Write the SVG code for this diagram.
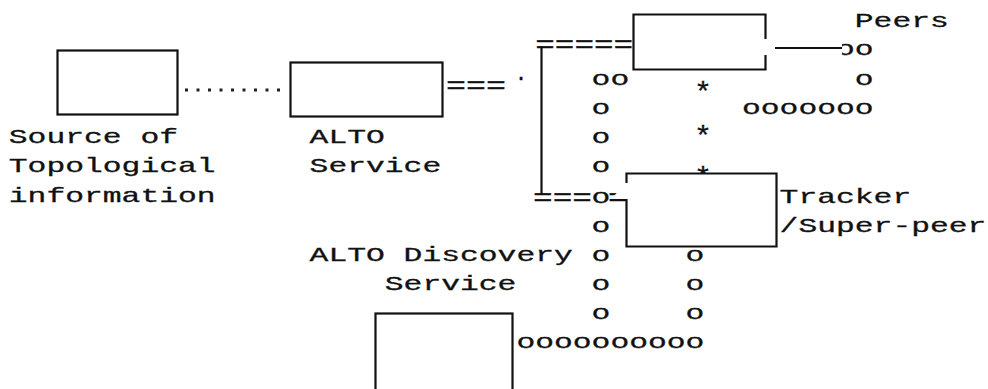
<svg xmlns="http://www.w3.org/2000/svg" width="988" height="389" viewBox="0 0 988 389">
<style>
text{font-family:"Liberation Mono","DejaVu Sans Mono",monospace;font-size:21px;fill:#111;white-space:pre;stroke:#111;stroke-width:0.3}
.star{font-size:28px}
.eq{font-size:24px}
.box{fill:#fff;stroke:#111;stroke-width:2.2}
.ln{fill:none;stroke:#111;stroke-width:2.2}
.dots{fill:none;stroke:#222;stroke-width:3;stroke-dasharray:3 8.5}
</style>
<rect width="988" height="389" fill="#fff"/>

<g id="ascii-paths">
  <text x="836" y="55" textLength="37.6" lengthAdjust="spacingAndGlyphs">oo</text>
  <text x="591.6" y="85" textLength="37.6" lengthAdjust="spacingAndGlyphs">oo</text>
  <text x="854.8" y="85" textLength="18.8" lengthAdjust="spacingAndGlyphs">o</text>
  <text x="591.6" y="114" textLength="18.8" lengthAdjust="spacingAndGlyphs">o</text>
  <text x="742" y="114" textLength="131.6" lengthAdjust="spacingAndGlyphs">ooooooo</text>
  <text x="591.6" y="143" textLength="18.8" lengthAdjust="spacingAndGlyphs">o</text>
  <text x="591.6" y="172" textLength="18.8" lengthAdjust="spacingAndGlyphs">o</text>
  <text x="591.6" y="203" textLength="18.8" lengthAdjust="spacingAndGlyphs">o</text>
  <text x="591.6" y="232" textLength="18.8" lengthAdjust="spacingAndGlyphs">o</text>
  <text x="591.6" y="261" textLength="18.8" lengthAdjust="spacingAndGlyphs">o</text>
  <text x="685.6" y="261" textLength="18.8" lengthAdjust="spacingAndGlyphs">o</text>
  <text x="591.6" y="290" textLength="18.8" lengthAdjust="spacingAndGlyphs">o</text>
  <text x="685.6" y="290" textLength="18.8" lengthAdjust="spacingAndGlyphs">o</text>
  <text x="591.6" y="319" textLength="18.8" lengthAdjust="spacingAndGlyphs">o</text>
  <text x="685.6" y="319" textLength="18.8" lengthAdjust="spacingAndGlyphs">o</text>
  <text x="516.4" y="348" textLength="188" lengthAdjust="spacingAndGlyphs">oooooooooo</text>
  <text class="star" x="694" y="101" textLength="18" lengthAdjust="spacingAndGlyphs">*</text>
  <text class="star" x="694" y="145" textLength="18" lengthAdjust="spacingAndGlyphs">*</text>
  <text class="star" x="694" y="186" textLength="18" lengthAdjust="spacingAndGlyphs">*</text>
  <text class="eq" x="446" y="93" textLength="60" lengthAdjust="spacingAndGlyphs">===</text>
  <text x="521" y="80" text-anchor="middle">.</text>
  <text class="eq" x="535.2" y="52" textLength="98" lengthAdjust="spacingAndGlyphs">=====</text>
  <text class="eq" x="533" y="205" textLength="59" lengthAdjust="spacingAndGlyphs">===</text>
  <text class="eq" x="608" y="205" textLength="19" lengthAdjust="spacingAndGlyphs">=</text>
</g>

<g id="connectors">
  <line class="dots" x1="185" y1="90" x2="283" y2="90"/>
  <line class="ln" x1="541.5" y1="46" x2="541.5" y2="195"/>
  <rect x="836" y="40" width="6" height="18" fill="#fff"/>
  <line class="ln" x1="775" y1="48" x2="842" y2="48"/>
</g>

<g id="source">
  <rect class="box" x="57.5" y="50.5" width="120" height="64"/>
  <text x="8.8" y="143" textLength="169.2" lengthAdjust="spacingAndGlyphs">Source of</text>
  <text x="8.8" y="172" textLength="206.8" lengthAdjust="spacingAndGlyphs">Topological</text>
  <text x="8.8" y="202" textLength="206.8" lengthAdjust="spacingAndGlyphs">information</text>
</g>

<g id="alto">
  <rect class="box" x="290.5" y="62.5" width="152" height="54"/>
  <text x="309.6" y="143" textLength="75.2" lengthAdjust="spacingAndGlyphs">ALTO</text>
  <text x="309.6" y="172" textLength="131.6" lengthAdjust="spacingAndGlyphs">Service</text>
</g>

<g id="peers">
  <path class="box" d="M765.5 39 V14.5 H633.5 V69.5 H765.5 V55"/>
  <text x="854.8" y="27" textLength="94" lengthAdjust="spacingAndGlyphs">Peers</text>
</g>

<g id="tracker">
  <path class="box" d="M626.5 183 V173.5 H776.5 V246.5 H626.5 V200 H610"/>
  <text x="779.6" y="203" textLength="131.6" lengthAdjust="spacingAndGlyphs">Tracker</text>
  <text x="779.6" y="232" textLength="206.8" lengthAdjust="spacingAndGlyphs">/Super-peer</text>
</g>

<g id="discovery">
  <rect class="box" x="375.5" y="313.5" width="137" height="80"/>
  <text x="309.6" y="261" textLength="263.2" lengthAdjust="spacingAndGlyphs">ALTO Discovery</text>
  <text x="384.8" y="290" textLength="131.6" lengthAdjust="spacingAndGlyphs">Service</text>
</g>
</svg>
